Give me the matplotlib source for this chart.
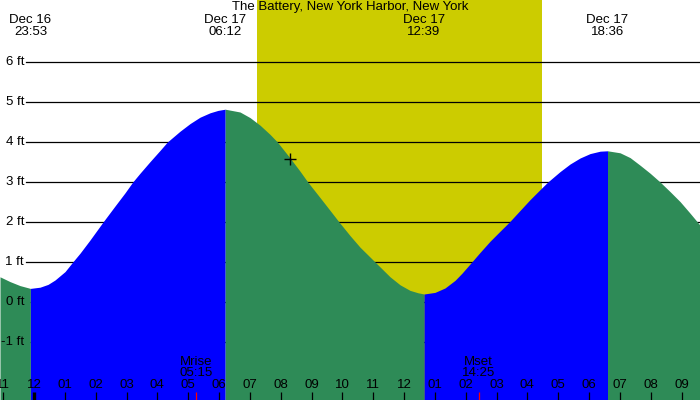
import numpy as np
import matplotlib
matplotlib.use('Agg')
from matplotlib import pyplot as plt

# tide curve (hours from Dec 17 00:00, feet)
hours = [-1.103, -0.778, -0.454, -0.117, 0.195, 0.454, 0.681, 1.006, 1.255, 1.492,
         1.816, 2.238, 2.627, 2.952, 3.201, 3.438, 3.763, 4.087, 4.324, 4.736,
         5.060, 5.384, 5.709, 5.968, 6.200, 6.682, 7.006, 7.331, 7.655, 7.892,
         8.304, 8.628, 8.878, 9.277, 9.601, 9.893, 10.250, 10.574, 11.061, 11.547,
         11.872, 12.196, 12.456, 12.650, 13.004, 13.329, 13.653, 13.880, 14.197,
         14.466, 14.791, 15.115, 15.417, 15.764, 16.088, 16.413, 16.663, 17.061,
         17.386, 17.710, 18.034, 18.359, 18.600, 19.008, 19.332, 19.656, 19.981,
         20.305, 20.629, 20.954, 21.278, 21.602]
height = [0.63, 0.51, 0.41, 0.34, 0.37, 0.44, 0.55, 0.76, 1.00, 1.22,
          1.55, 2.00, 2.40, 2.73, 3.00, 3.22, 3.51, 3.79, 4.00, 4.27,
          4.46, 4.62, 4.73, 4.79, 4.82, 4.75, 4.61, 4.42, 4.19, 4.00,
          3.60, 3.27, 3.00, 2.61, 2.29, 2.00, 1.66, 1.37, 1.00, 0.63,
          0.43, 0.29, 0.23, 0.20, 0.24, 0.35, 0.54, 0.72, 1.00,
          1.24, 1.52, 1.77, 2.00, 2.29, 2.56, 2.81, 3.00, 3.26,
          3.45, 3.60, 3.71, 3.77, 3.78, 3.73, 3.61, 3.42, 3.22,
          3.00, 2.76, 2.51, 2.22, 1.92]

# high / low events
event_day = ['Dec 16', 'Dec 17', 'Dec 17', 'Dec 17']
event_clock = ['23:53', '06:12', '12:39', '18:36']

sunrise, sunset = '07:13', '16:28'
moon_names = ['Mrise', 'Mset']
moon_clock = ['05:15', '14:25']

now_hour, now_height = 8.30, 3.57
ft_ticks = [-1, 0, 1, 2, 3, 4, 5, 6]
hour_ticks = list(range(-1, 22))

title = 'The Battery, New York Harbor, New York'


def to_h(clock, day='Dec 17'):
    hh, mm = clock.split(':')
    h = int(hh) + int(mm) / 60
    return h - 24 if day == 'Dec 16' else h


event_hours = [to_h(c, d) for c, d in zip(event_clock, event_day)]

plt.rcParams['font.family'] = ['Liberation Sans', 'DejaVu Sans']
plt.rcParams['font.size'] = 9.5

fig = plt.figure(figsize=(7, 4), dpi=100)
ax = fig.add_axes([0, 0, 1, 1])
ax.set_facecolor('#c0c0c0')
ax.set_xlim(-1.103, 21.60)
ax.set_ylim(-2.45, 7.55)
ax.axis('off')
ax.patch.set_visible(True)

# daylight
ax.axvspan(to_h(sunrise), to_h(sunset), color='#cccc00', zorder=0, lw=0)

# grid lines
for v in ft_ticks:
    ax.axhline(v, xmin=26 / 700, xmax=1, color='black', lw=0.9, zorder=1)
    ax.text(24 / 700, v, f'{v} ft', transform=ax.get_yaxis_transform(),
            ha='right', va='center', zorder=4)

# tide fill, blue when rising and green when falling
x = np.array(hours)
y = np.array(height)
cuts = [0] + [int(np.argmin(np.abs(x - e))) for e in event_hours] + [len(x) - 1]
cols = ['#2e8b57', '#0000ff', '#2e8b57', '#0000ff', '#2e8b57']
for k in range(len(cuts) - 1):
    a, b = cuts[k], cuts[k + 1]
    ax.fill_between(x[a:b + 1], -2.45, y[a:b + 1], color=cols[k], lw=0,
                    zorder=2)

# current time marker
ax.plot([now_hour], [now_height], marker='+', color='black', ms=8, mew=1,
        zorder=5)

# hour axis along the bottom
tr = ax.get_xaxis_transform()
for h in hour_ticks:
    lab = f'{(h - 1) % 12 + 1:02d}'
    ax.text(h, 15 / 400, lab, transform=tr, ha='center', va='center', zorder=4)
    lw = 2.4 if h == 0 else 0.9
    ax.plot([h, h], [0, 8 / 400], transform=tr, color='black', lw=lw,
            solid_capstyle='butt', zorder=4)

for name, clock in zip(moon_names, moon_clock):
    mh = to_h(clock)
    ax.plot([mh, mh], [0, 8 / 400], transform=tr, color='red', lw=0.9,
            solid_capstyle='butt', zorder=4)
    ax.text(mh, 1 - 362 / 400, name, transform=tr, ha='center', va='center',
            zorder=4)
    ax.text(mh, 1 - 373 / 400, clock, transform=tr, ha='center', va='center',
            zorder=4)

# event labels along the top
for eh, d, c in zip(event_hours, event_day, event_clock):
    ax.text(eh, 1 - 20 / 400, d, transform=tr, ha='center', va='center', zorder=4)
    ax.text(eh, 1 - 32 / 400, c, transform=tr, ha='center', va='center', zorder=4)

ax.text(0.5, 1 - 7 / 400, title, transform=ax.transAxes, ha='center',
        va='center', zorder=4)

fig.savefig('out.png', dpi=100)
